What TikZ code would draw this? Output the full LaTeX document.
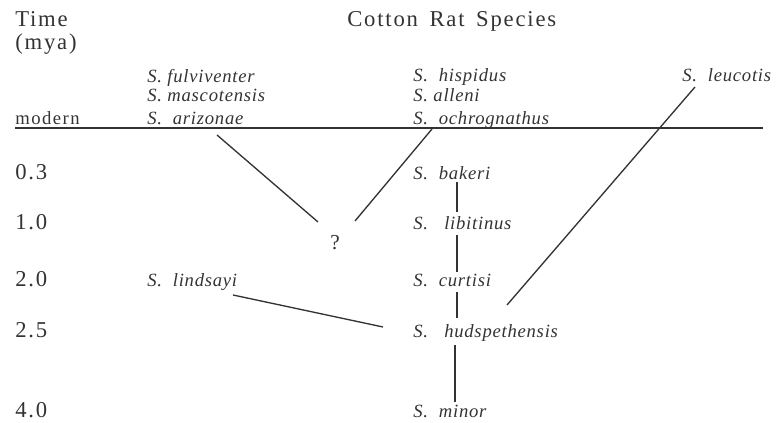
\documentclass[tikz,border=0pt]{standalone}
\usepackage{fontspec}
\setmainfont{Liberation Serif}
\newfontfamily\timefont[LetterSpace=8]{Liberation Serif}
\newfontfamily\specfont[LetterSpace=4]{Liberation Serif}
\usetikzlibrary{calc}
\definecolor{ink}{gray}{0.2}

\begin{document}
\begin{tikzpicture}[x=0.75pt, y=-0.75pt,
  timelbl/.style={font=\timefont\fontsize{17}{20}\selectfont, text=ink, anchor=base west, inner sep=0pt},
  species/.style={font=\specfont\itshape\fontsize{14}{16}\selectfont, text=ink, anchor=base west, inner sep=0pt},
  link/.style={draw=ink, line width=1pt}
]
  \useasboundingbox (0,0) rectangle (783,423);

  % time axis
  \node[timelbl] (time) at (15,27) {Time};
  \node[timelbl] (mya) at (15,50) {(mya)};
  \node[timelbl, font=\timefont\fontsize{14}{16}\selectfont] (modern) at (15,125) {modern};
  \node[timelbl] (t03) at (15,180) {0.3};
  \node[timelbl] (t10) at (15,230) {1.0};
  \node[timelbl] (t20) at (15,287) {2.0};
  \node[timelbl] (t25) at (15,338) {2.5};
  \node[timelbl] (t40) at (15,418) {4.0};
  \node[timelbl] (title) at (347,27) {Cotton\hspace{3pt} Rat\hspace{3pt} Species};

  % modern line
  \coordinate (line l) at (15,128);
  \coordinate (line r) at (763,128);
  \draw[link] (line l) -- (line r);

  % species
  \node[species] (ful) at (147,83) {S. fulviventer};
  \node[species] (mas) at (147,102) {S. mascotensis};
  \node[species] (ari) at (147,125) {S.\ \ arizonae};
  \node[species] (his) at (413,82) {S.\ \ hispidus};
  \node[species] (all) at (413,102) {S. alleni};
  \node[species] (och) at (413,125) {S.\ \ ochrognathus};
  \node[species] (leu) at (682,82) {S.\ \ leucotis};
  \node[species] (bak) at (413,180) {S.\ \ bakeri};
  \node[species] (lib) at (413,230) {S.\ \ \ libitinus};
  \node[species] (cur) at (413,287) {S.\ \ curtisi};
  \node[species] (lin) at (147,287) {S.\ \ lindsayi};
  \node[species] (hud) at (413,338) {S.\ \ \ hudspethensis};
  \node[species] (min) at (413,418) {S.\ \ minor};
  \node[font=\fontsize{16}{18}\selectfont, text=ink, anchor=base, inner sep=0pt] (q) at (335,250) {?};

  % lineages
  \draw[link] ($(ari.base west)+(70,10)$) -- ($(q.base)+(-17,-28)$);
  \draw[link] ($(och.base west)+(19,4)$) -- ($(q.base)+(20,-29)$);
  \draw[link] ($(leu.base west)+(13,5)$) -- ($(hud.base west)+(94,-33)$);
  \draw[link] ($(lin.base west)+(86,8)$) -- ($(hud.base west)+(-30,-11)$);
  \draw[link] ($(bak.base west)+(44,2)$) -- ($(lib.base west)+(44,-18)$);
  \draw[link] ($(lib.base west)+(44,5)$) -- ($(cur.base west)+(44,-15)$);
  \draw[link] ($(cur.base west)+(44,5)$) -- ($(hud.base west)+(44,-20)$);
  \draw[link] ($(hud.base west)+(42,7)$) -- ($(min.base west)+(42,-16)$);
\end{tikzpicture}
\end{document}
